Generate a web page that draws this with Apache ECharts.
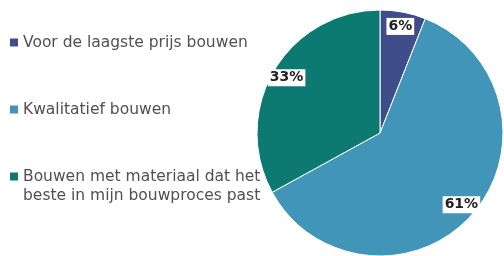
<!DOCTYPE html>
<html>
<head>
<meta charset="utf-8">
<script src="https://cdn.jsdelivr.net/npm/echarts@6/dist/echarts.min.js"></script>
<style>
  html, body { margin: 0; padding: 0; background: #fff; }
  #chart { width: 504px; height: 256px; }
</style>
</head>
<body>
<div id="chart"></div>
<script>
// Chart data
const categories = [
  'Voor de laagste prijs bouwen',
  'Kwalitatief bouwen',
  'Bouwen met materiaal dat het beste in mijn bouwproces past'
];
const values = [6, 61, 33];
const colors = ['#3f4e8b', '#4095b8', '#0d7a72'];

// legend wraps the long name after "het"; the blank first line keeps the
// icon level with "Bouwen ..." (legend text is always centred on the icon)
const legendLines = {
  'Bouwen met materiaal dat het beste in mijn bouwproces past':
    ' \nBouwen met materiaal dat het\nbeste in mijn bouwproces past'
};

const pieData = categories.map((name, i) => ({
  name: name,
  value: values[i],
  itemStyle: { color: colors[i] }
}));

const chart = echarts.init(document.getElementById('chart'));

const legendBase = {
  orient: 'vertical',
  left: 10,
  padding: 0,
  itemWidth: 8,
  itemHeight: 8,
  itemGap: 48,
  icon: 'rect',
  itemStyle: { borderWidth: 0 },
  formatter: function (name) {
    return legendLines[name] || name;
  },
  textStyle: {
    fontFamily: 'DejaVu Sans',
    fontSize: 15.5,
    lineHeight: 19,
    color: '#505050'
  }
};

const option = {
  animation: false,
  legend: [
    Object.assign({}, legendBase, {
      top: 33,
      data: [categories[0], categories[1]]
    }),
    Object.assign({}, legendBase, {
      top: 148,
      data: [categories[2]]
    })
  ],
  series: [
    {
      // the pie itself
      type: 'pie',
      center: [380, 133],
      radius: 123,
      startAngle: 90,
      clockwise: true,
      itemStyle: { borderColor: '#ffffff', borderWidth: 1 },
      label: { show: false },
      labelLine: { show: false },
      emphasis: { disabled: true },
      data: pieData
    },
    {
      // transparent ring, only used to place the percentage labels near the rim
      type: 'pie',
      center: [380, 133],
      radius: [88, 123],
      startAngle: 90,
      clockwise: true,
      silent: true,
      itemStyle: { color: 'rgba(0,0,0,0)' },
      label: {
        show: true,
        position: 'inside',
        formatter: '{c}%',
        fontFamily: 'DejaVu Sans',
        fontWeight: 'bold',
        fontSize: 14,
        color: '#222222',
        backgroundColor: '#ffffff',
        padding: [2, 2, 1, 2]
      },
      labelLine: { show: false },
      emphasis: { disabled: true },
      data: pieData.map(d => ({ name: d.name, value: d.value }))
    }
  ]
};

chart.setOption(option);
</script>
</body>
</html>
